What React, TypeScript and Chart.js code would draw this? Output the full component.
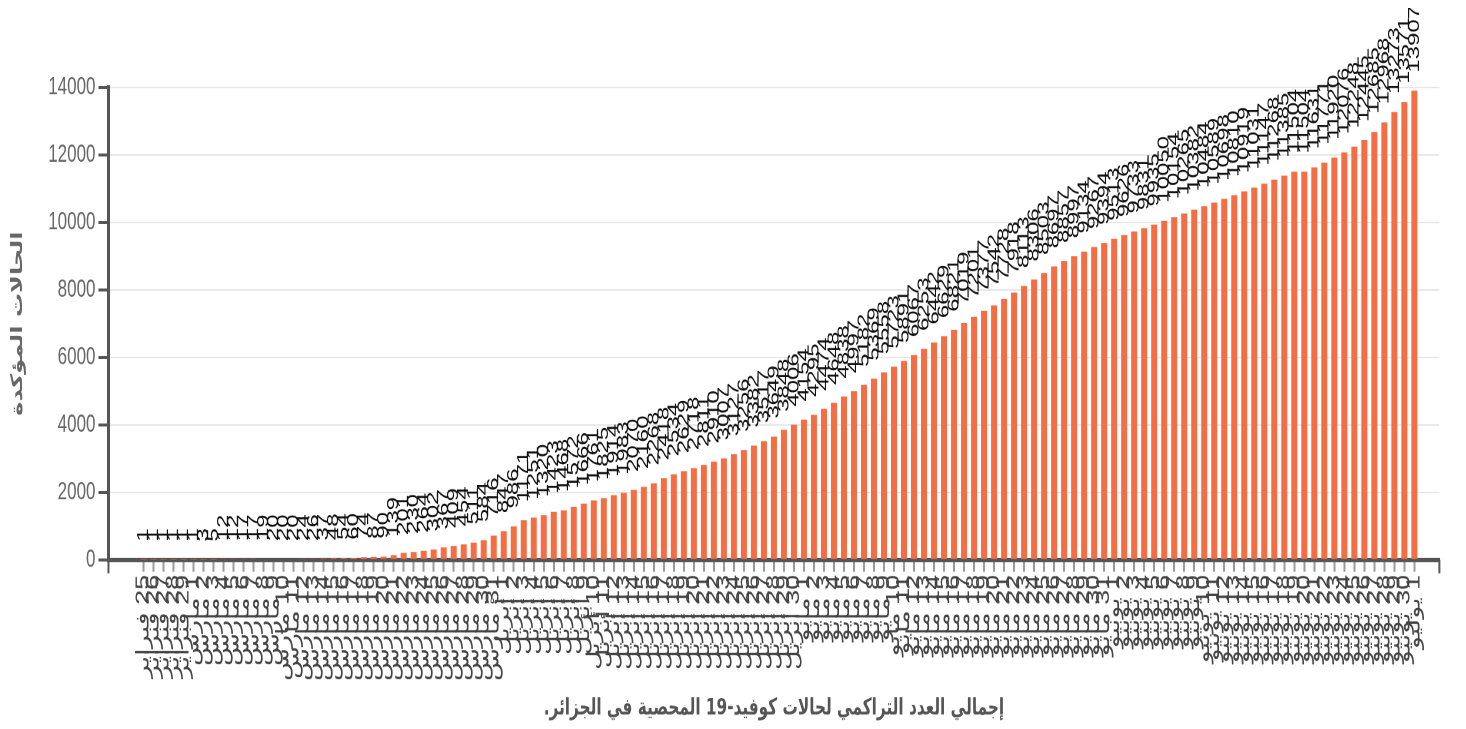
import React, { useEffect, useRef } from 'react';
import { Chart, registerables } from 'chart.js';

Chart.register(...registerables);

// ---- data -------------------------------------------------------------
const MONTH_NAMES = ['فبراير', 'مارس', 'أبريل', 'مايو', 'يونيو', 'يوليو'];
const MONTH_FIRST_DAY = [25, 1, 1, 1, 1, 1];
const MONTH_LAST_DAY = [29, 31, 30, 31, 30, 1];

const febCases = [1, 1, 1, 1, 1];
const marCases = [1, 3, 5, 12, 12, 17, 17, 19, 20, 20, 20, 24, 26, 37, 48, 54, 60, 74, 87, 90, 139, 201, 230, 264, 302, 367, 409, 454, 511, 584, 716];
const aprCases = [847, 986, 1171, 1251, 1320, 1423, 1468, 1572, 1666, 1761, 1825, 1914, 1983, 2070, 2160, 2268, 2418, 2534, 2629, 2718, 2811, 2910, 3007, 3127, 3256, 3382, 3517, 3649, 3848, 4006];
const mayCases = [4154, 4295, 4474, 4648, 4838, 4997, 5182, 5369, 5558, 5723, 5891, 6067, 6253, 6442, 6629, 6821, 7019, 7201, 7377, 7542, 7728, 7918, 8113, 8306, 8503, 8697, 8857, 8997, 9134, 9267, 9394];
const junCases = [9513, 9626, 9733, 9831, 9935, 10050, 10154, 10265, 10382, 10484, 10589, 10698, 10810, 10919, 11031, 11147, 11268, 11385, 11504, 11504, 11631, 11771, 11920, 12076, 12248, 12445, 12685, 12968, 13273, 13571];
const julCases = [13907];

const Y_MIN = 0;
const Y_MAX = 14000;
const Y_STEP = 2000;

const Y_TITLE = 'الحالات المؤكدة';
const X_TITLE = 'إجمالي العدد التراكمي لحالات كوفيد-19 المحصية في الجزائر.';

const categories: string[] = [];
MONTH_NAMES.forEach((m, i) => {
  for (let d = MONTH_FIRST_DAY[i]; d <= MONTH_LAST_DAY[i]; d++) categories.push(`${d} ${m}`);
});
const cumulativeCases: number[] = [...febCases, ...marCases, ...aprCases, ...mayCases, ...junCases, ...julCases];

// empty band slots at both ends of the category axis
const PAD_L = 3;
const PAD_R = 2;
const axisLabels = [...Array(PAD_L).fill(''), ...categories, ...Array(PAD_R).fill('')];
const axisValues = [...Array(PAD_L).fill(null), ...cumulativeCases, ...Array(PAD_R).fill(null)];

// ---- geometry ----------------------------------------------------------
const W = 1450;
const H = 480;
const STRETCH_Y = 1.5;
const LABEL_OFFSET = 12;

const valueLabels = {
  id: 'valueLabels',
  afterDatasetsDraw(chart: any) {
    const ctx = chart.ctx;
    const meta = chart.getDatasetMeta(0);
    const data = chart.data.datasets[0].data;
    ctx.save();
    ctx.font = '16px "Liberation Sans", Arial, sans-serif';
    ctx.fillStyle = '#111';
    ctx.textAlign = 'left';
    ctx.textBaseline = 'middle';
    meta.data.forEach((bar: any, i: number) => {
      const v = data[i];
      if (v === null || v === undefined) return;
      ctx.save();
      ctx.translate(bar.x, bar.y - LABEL_OFFSET);
      ctx.rotate(-Math.PI / 2);
      ctx.fillText(String(v), 0, 0);
      ctx.restore();
    });
    ctx.restore();
  },
};

const outerTicks = {
  id: 'outerTicks',
  afterDraw(chart: any) {
    const { ctx, chartArea } = chart;
    ctx.save();
    ctx.strokeStyle = '#555';
    ctx.lineWidth = 2;
    ctx.beginPath();
    ctx.moveTo(chartArea.left, chartArea.bottom);
    ctx.lineTo(chartArea.left, chartArea.bottom + 9);
    ctx.moveTo(chartArea.right, chartArea.bottom);
    ctx.lineTo(chartArea.right, chartArea.bottom + 9);
    ctx.stroke();
    ctx.restore();
  },
};

export default function App() {
  const ref = useRef<HTMLCanvasElement | null>(null);

  useEffect(() => {
    if (!ref.current) return;
    const chart = new Chart(ref.current, {
      type: 'bar',
      data: {
        labels: axisLabels,
        datasets: [
          {
            data: axisValues as any,
            backgroundColor: '#f46d43',
            barPercentage: 0.6,
            categoryPercentage: 1,
          },
        ],
      },
      options: {
        responsive: false,
        animation: false,
        devicePixelRatio: 2,
        layout: { padding: { top: 53, right: 6, left: 0, bottom: 4 } },
        plugins: {
          legend: { display: false },
          tooltip: { enabled: false },
        },
        scales: {
          x: {
            offset: true,
            grid: {
              drawOnChartArea: false,
              offset: false,
              tickLength: 8,
              tickWidth: 2,
              tickColor: (c: any) =>
                c.index < PAD_L || c.index >= PAD_L + categories.length ? 'rgba(0,0,0,0)' : '#9a9a9a',
            },
            border: { display: true, color: '#555', width: 3 },
            ticks: {
              autoSkip: false,
              maxRotation: 90,
              minRotation: 90,
              padding: 2,
              color: '#444',
              font: { size: 18, family: '"Liberation Sans", "DejaVu Sans", sans-serif' },
            },
            title: {
              display: true,
              text: X_TITLE,
              color: '#555',
              font: { size: 15.3, weight: 'bold', family: '"DejaVu Sans", sans-serif' },
              padding: { top: 7, bottom: 0 },
            },
          },
          y: {
            min: Y_MIN,
            max: Y_MAX,
            ticks: {
              stepSize: Y_STEP,
              color: '#666',
              padding: 3,
              font: { size: 17, family: '"Liberation Sans", Arial, sans-serif' },
              callback: (v: any) => String(v),
            },
            grid: {
              color: '#e6e6e6',
              lineWidth: 1,
              tickLength: 10,
              tickColor: '#555',
              tickWidth: 2,
            },
            border: { color: '#555', width: 3 },
            title: {
              display: true,
              text: Y_TITLE,
              color: '#666',
              font: { size: 16, weight: 'bold', family: '"DejaVu Sans", sans-serif' },
              padding: { top: 0, bottom: 18 },
            },
          },
        },
      },
      plugins: [valueLabels, outerTicks],
    });
    return () => chart.destroy();
  }, []);

  return (
    <div style={{ width: W, height: H * STRETCH_Y, overflow: 'hidden' }}>
      <div style={{ width: W, height: H, transform: `scaleY(${STRETCH_Y})`, transformOrigin: '0 0' }}>
        <canvas ref={ref} width={W} height={H} dir="rtl" style={{ direction: 'rtl' }} />
      </div>
    </div>
  );
}
